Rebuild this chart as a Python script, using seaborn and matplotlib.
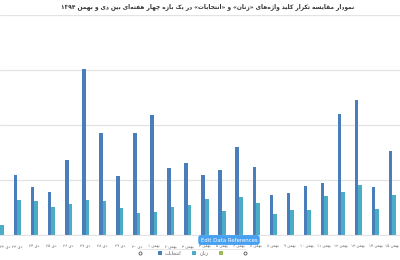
import matplotlib
matplotlib.use("Agg")
import matplotlib.pyplot as plt
import seaborn as sns
import pandas as pd
from matplotlib.patches import Patch
from matplotlib.lines import Line2D

# ---------------- data ----------------
title_text = "نمودار مقایسه تکرار کلید واژه‌های «زنان» و «انتخابات» در یک بازه چهار هفته‌ای بین دی و بهمن ۱۳۹۴"
categories = ["دی ۲۲", "دی ۲۳", "دی ۲۴", "دی ۲۵", "دی ۲۶", "دی ۲۷", "دی ۲۸", "دی ۲۹", "دی ۳۰",
              "بهمن ۱", "بهمن ۲", "بهمن ۳", "بهمن ۴", "بهمن ۵", "بهمن ۶", "بهمن ۷", "بهمن ۸",
              "بهمن ۹", "بهمن ۱۰", "بهمن ۱۱", "بهمن ۱۲", "بهمن ۱۳", "بهمن ۱۴", "بهمن ۱۵"]
series_names = ["انتخابات", "زنان"]
elections = [17, 54.5, 43.6, 38.8, 68, 151, 92.7, 53.6, 92.7, 109, 60.6, 65.2,
             54.5, 58.8, 80, 61.8, 36.4, 37.9, 44.5, 47.3, 109.7, 123, 43.6, 76.4]
women = [9, 32, 31, 25.5, 28, 32, 31, 24.5, 20, 21, 25.5, 27.3,
         32.7, 21.8, 34.5, 28.8, 19, 22.7, 22.7, 35.5, 39, 45.7, 23.4, 36.6]
third_label = ""
button_text = "Edit Data References"

# --------- simple Persian shaping for display (matplotlib has no bidi/shaping) ---------
FORMS = {  # iso, fin, ini, med (None => right-joining only)
    "ا": ("\uFE8D", "\uFE8E", None, None),
    "ب": ("\uFE8F", "\uFE90", "\uFE91", "\uFE92"),
    "ت": ("\uFE95", "\uFE96", "\uFE97", "\uFE98"),
    "ج": ("\uFE9D", "\uFE9E", "\uFE9F", "\uFEA0"),
    "چ": ("\uFB7A", "\uFB7B", "\uFB7C", "\uFB7D"),
    "خ": ("\uFEA5", "\uFEA6", "\uFEA7", "\uFEA8"),
    "د": ("\uFEA9", "\uFEAA", None, None),
    "ر": ("\uFEAD", "\uFEAE", None, None),
    "ز": ("\uFEAF", "\uFEB0", None, None),
    "ژ": ("\uFB8A", "\uFB8B", None, None),
    "س": ("\uFEB1", "\uFEB2", "\uFEB3", "\uFEB4"),
    "ف": ("\uFED1", "\uFED2", "\uFED3", "\uFED4"),
    "ق": ("\uFED5", "\uFED6", "\uFED7", "\uFED8"),
    "ک": ("\uFB8E", "\uFB8F", "\uFB90", "\uFB91"),
    "ل": ("\uFEDD", "\uFEDE", "\uFEDF", "\uFEE0"),
    "م": ("\uFEE1", "\uFEE2", "\uFEE3", "\uFEE4"),
    "ن": ("\uFEE5", "\uFEE6", "\uFEE7", "\uFEE8"),
    "ه": ("\uFEE9", "\uFEEA", "\uFEEB", "\uFEEC"),
    "و": ("\uFEED", "\uFEEE", None, None),
    "ی": ("\uFBFC", "\uFBFD", "\uFBFE", "\uFBFF"),
}


def dual(c):
    return c in FORMS and FORMS[c][2] is not None


def shape(text):
    out = []
    n = len(text)
    for i, c in enumerate(text):
        if c == "\u200c":
            continue
        if c not in FORMS:
            out.append(c)
            continue
        prev = text[i - 1] if i > 0 else ""
        nxt = text[i + 1] if i + 1 < n else ""
        jp = dual(prev)
        jn = dual(c) and nxt in FORMS
        iso, fin, ini, med = FORMS[c]
        if jp and jn:
            out.append(med)
        elif jp:
            out.append(fin)
        elif jn:
            out.append(ini)
        else:
            out.append(iso)
    return "".join(out)


def rtl(text):
    s = shape(text)
    digits = set("۰۱۲۳۴۵۶۷۸۹0123456789")
    runs, cur, isd = [], "", None
    for ch in s:
        d = ch in digits
        if isd is None or d == isd:
            cur += ch
        else:
            runs.append((isd, cur))
            cur = ch
        isd = d
    if cur:
        runs.append((isd, cur))
    res = []
    for d, r in reversed(runs):
        if d:
            res.append(r)
        else:
            rr = r[::-1].translate(str.maketrans("«»()", "»«)("))
            res.append(rr)
    return "".join(res)


# ---------------- plot ----------------
sns.set_theme(style="white")
plt.rcParams["font.family"] = ["DejaVu Sans"]

df = pd.DataFrame({
    "cat": categories * 2,
    "series": [series_names[0]] * len(categories) + [series_names[1]] * len(categories),
    "value": elections + women,
})

colors = ["#4A7EBB", "#4BACC6", "#9BBB59"]

fig = plt.figure(figsize=(4.0, 2.6), dpi=100)
ax = fig.add_axes([0.0, 1 - 235 / 260, 1.0, (235 - 15) / 260])
sns.barplot(data=df, x="cat", y="value", hue="series", palette=colors[:2],
            width=0.42, ax=ax, legend=False, saturation=1, linewidth=0)

ax.set_ylim(0, 200)
ax.set_xlim(-0.02, 23.44)
ax.set_yticks([0, 50, 100, 150, 200])
ax.yaxis.grid(True, color="#e3e3e3", linewidth=0.9)
ax.set_axisbelow(True)
ax.tick_params(axis="y", left=False, labelleft=False)
ax.tick_params(axis="x", bottom=False, pad=1.0, labelsize=2.9, labelcolor="#666666")
ax.set_xticks(range(len(categories)))
ax.set_xticklabels([rtl(c) for c in categories])
ax.get_xticklabels()[0].set_horizontalalignment("left")
for s in ["top", "right", "left"]:
    ax.spines[s].set_visible(False)
ax.spines["bottom"].set_color("#e3e3e3")
ax.spines["bottom"].set_linewidth(0.8)
ax.set_xlabel("")
ax.set_ylabel("")

fig.text(208 / 400, 1 - 7 / 260, rtl(title_text), ha="center", va="center",
         fontsize=4.25, fontweight="bold", color="#333333")

handles = [Patch(facecolor=colors[0], edgecolor="none"),
           Patch(facecolor=colors[1], edgecolor="none"),
           Patch(facecolor=colors[2], edgecolor="none")]
labels = [rtl(series_names[0]), rtl(series_names[1]), third_label]
fig.legend(handles, labels, loc="center", bbox_to_anchor=(192 / 400, 1 - 253 / 260),
           ncol=3, fontsize=3.6, frameon=False, handlelength=0.8, handleheight=0.8,
           handletextpad=0.6, columnspacing=2.2, labelcolor="#555555")
for xp in (140, 245):
    fig.add_artist(Line2D([xp / 400], [1 - 253 / 260], marker="o", markersize=2.2,
                          markerfacecolor="white", markeredgecolor="#555555",
                          markeredgewidth=0.6, linestyle="none"))
fig.add_artist(Line2D([140 / 400, 245 / 400], [1 - 249 / 260] * 2, color="#dddddd", linewidth=0.5))

fig.text(229 / 400, 1 - 240 / 260, button_text, ha="center", va="center", fontsize=3.9,
         color="white", bbox=dict(boxstyle="round,pad=0.45,rounding_size=0.5",
                                  facecolor="#47a0f0", edgecolor="none"))

fig.savefig("out.png", dpi=100, facecolor="white")
